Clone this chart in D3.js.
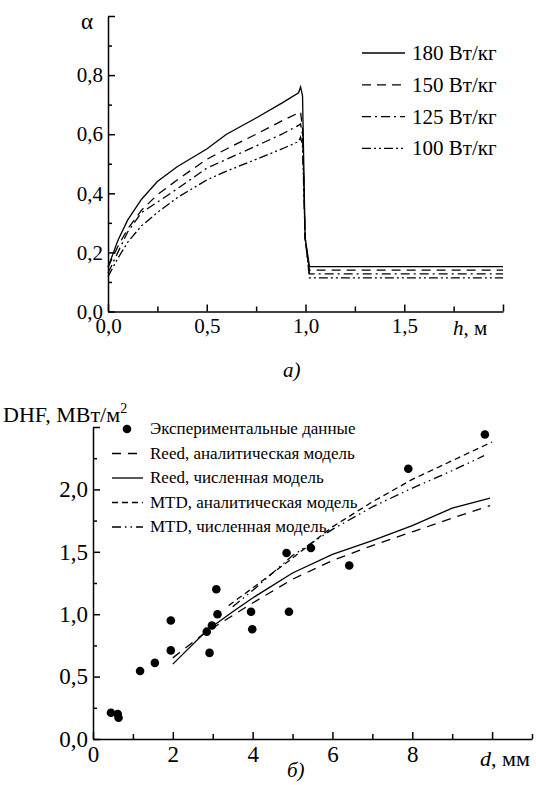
<!DOCTYPE html>
<html>
<head>
<meta charset="utf-8">
<script src="https://cdn.jsdelivr.net/npm/d3@7"></script>
<style>
  body { margin: 0; background: #fff; }
  text { font-family: "Liberation Serif", "Times New Roman", serif; fill: #000; }
</style>
</head>
<body>
<div id="plot"></div>
<script>
// ---- data, chart a): alpha vs h ----
var hGrid = [0, 0.05, 0.1, 0.17, 0.25, 0.35, 0.5, 0.6, 0.75, 0.88, 0.965, 0.975, 0.985, 0.998, 1.02, 2.0];
var alpha180 = [0.15, 0.24, 0.31, 0.38, 0.44, 0.49, 0.55, 0.60, 0.655, 0.705, 0.74, 0.76, 0.73, 0.25, 0.152, 0.152];
var alpha150 = [0.15, 0.22, 0.28, 0.343, 0.395, 0.445, 0.515, 0.55, 0.60, 0.645, 0.672, 0.675, 0.62, 0.25, 0.14, 0.14];
var alpha125 = [0.13, 0.20, 0.27, 0.335, 0.37, 0.415, 0.485, 0.515, 0.56, 0.60, 0.63, 0.635, 0.60, 0.25, 0.127, 0.127];
var alpha100 = [0.118, 0.18, 0.235, 0.29, 0.335, 0.385, 0.445, 0.475, 0.515, 0.55, 0.575, 0.59, 0.56, 0.25, 0.114, 0.114];
var powerLabels = ["180 Вт/кг", "150 Вт/кг", "125 Вт/кг", "100 Вт/кг"];

// ---- data, chart б): DHF vs d ----
var expD   = [0.45, 0.62, 0.64, 1.18, 1.55, 1.95, 1.95, 2.85, 2.92, 2.98, 3.09, 3.12, 3.96, 3.99, 4.85, 4.91, 5.46, 6.42, 7.90, 9.82];
var expDHF = [0.21, 0.20, 0.17, 0.545, 0.61, 0.71, 0.95, 0.86, 0.69, 0.91, 1.20, 1.00, 1.02, 0.88, 1.49, 1.02, 1.53, 1.39, 2.165, 2.44];
var reedNumD   = [2.0, 2.85, 3.5, 4.0, 5.0, 6.0, 7.0, 8.0, 9.0, 9.95];
var reedNumDHF = [0.60, 0.87, 1.02, 1.13, 1.33, 1.48, 1.59, 1.71, 1.85, 1.93];
var reedAnD    = [2.0, 2.8, 3.5, 4.0, 5.0, 6.0, 7.0, 8.0, 9.0, 9.95];
var reedAnDHF  = [0.65, 0.85, 0.99, 1.09, 1.28, 1.43, 1.55, 1.66, 1.77, 1.87];
var mtdAnD     = [3.4, 4.0, 5.0, 6.0, 7.0, 8.0, 9.0, 10.0];
var mtdAnDHF   = [1.07, 1.21, 1.45, 1.70, 1.90, 2.08, 2.23, 2.38];
var mtdNumD    = [3.5, 4.0, 5.0, 6.0, 7.0, 8.0, 9.0, 9.8];
var mtdNumDHF  = [1.06, 1.19, 1.47, 1.68, 1.86, 2.01, 2.15, 2.27];
var legendB = ["Экспериментальные данные", "Reed, аналитическая модель", "Reed, численная модель",
               "MTD, аналитическая модель", "MTD, численная модель"];

var comma = function(f) { return function(d) { return d3.format(f)(d).replace(".", ","); }; };

var svg = d3.select("#plot")
  .append("svg")
    .attr("width", 536)
    .attr("height", 785);

svg.append("rect").attr("width", 536).attr("height", 785).attr("fill", "#fff");

// helper: axis with inward major + minor ticks
function drawAxes(g, x, y, o) {
  var xa = g.append("g")
    .attr("transform", "translate(0," + y.range()[0] + ")")
    .call(d3.axisBottom(x).tickValues(o.xMajor).tickSize(-7).tickSizeOuter(0).tickPadding(7)
      .tickFormat(function(d) { return o.xHide.indexOf(d) >= 0 ? "" : o.xFmt(d); }));
  g.append("g")
    .attr("transform", "translate(0," + y.range()[0] + ")")
    .call(d3.axisBottom(x).tickValues(o.xMinor).tickSize(-5).tickFormat(""))
    .select(".domain").remove();
  var ya = g.append("g")
    .attr("transform", "translate(" + x.range()[0] + ",0)")
    .call(d3.axisLeft(y).tickValues(o.yMajor).tickSize(-7).tickSizeOuter(0).tickPadding(5)
      .tickFormat(function(d) { return o.yHide.indexOf(d) >= 0 ? "" : o.yFmt(d); }));
  g.append("g")
    .attr("transform", "translate(" + x.range()[0] + ",0)")
    .call(d3.axisLeft(y).tickValues(o.yMinor).tickSize(-4).tickFormat(""))
    .select(".domain").remove();
  g.selectAll(".domain, .tick line").attr("stroke", "#000").attr("stroke-width", 1.5);
  g.selectAll(".tick text").attr("font-family", "Liberation Serif, serif")
    .attr("font-size", o.fs).attr("fill", "#000");
}

// ================= chart a) =================
var xA = d3.scaleLinear().domain([0, 2]).range([108, 503]);
var yA = d3.scaleLinear().domain([0, 1]).range([311.5, 16]);
var gA = svg.append("g");

drawAxes(gA, xA, yA, {
  xMajor: [0, 0.5, 1, 1.5, 2], xMinor: [0.25, 0.75, 1.25, 1.75], xHide: [2], xFmt: comma(".1f"),
  yMajor: [0, 0.2, 0.4, 0.6, 0.8, 1], yMinor: [0.1, 0.3, 0.5, 0.7, 0.9], yHide: [1], yFmt: comma(".1f"),
  fs: 21
});

var dashA = [null, "9,6", "9,4,2,4", "9,3,2,3,2,3"];
var seriesA = [alpha180, alpha150, alpha125, alpha100];
var lineA = d3.line()
  .x(function(d) { return xA(d[0]); })
  .y(function(d) { return yA(d[1]); });

seriesA.forEach(function(vals, i) {
  gA.append("path")
    .datum(hGrid.map(function(h, j) { return [h, vals[j]]; }))
    .attr("fill", "none")
    .attr("stroke", "#000")
    .attr("stroke-width", 1.3)
    .attr("stroke-dasharray", dashA[i])
    .attr("d", lineA);
});

// legend a)
powerLabels.forEach(function(t, i) {
  var cy = 53 + i * 31.8;
  gA.append("line")
    .attr("x1", 362).attr("x2", 405).attr("y1", cy).attr("y2", cy)
    .attr("stroke", "#000").attr("stroke-width", 1.3)
    .attr("stroke-dasharray", dashA[i]);
  gA.append("text")
    .attr("x", 412).attr("y", cy + 7)
    .attr("font-size", 21)
    .text(t);
});

gA.append("text").attr("x", 87).attr("y", 29).attr("font-size", 23)
  .attr("text-anchor", "middle").text("α");
var hl = gA.append("text").attr("x", 453).attr("y", 335).attr("font-size", 21);
hl.append("tspan").attr("font-style", "italic").text("h");
hl.append("tspan").text(", м");
gA.append("text").attr("x", 283).attr("y", 377).attr("font-size", 21)
  .attr("font-style", "italic").text("а)");

// ================= chart б) =================
var xB = d3.scaleLinear().domain([0, 11]).range([93, 532]);
var yB = d3.scaleLinear().domain([0, 2.5]).range([739, 427]);
var gB = svg.append("g");

drawAxes(gB, xB, yB, {
  xMajor: [0, 2, 4, 6, 8, 10], xMinor: [1, 3, 5, 7, 9, 11], xHide: [10], xFmt: d3.format("d"),
  yMajor: [0, 0.5, 1, 1.5, 2, 2.5], yMinor: [0.25, 0.75, 1.25, 1.75, 2.25], yHide: [2.5], yFmt: comma(".1f"),
  fs: 23
});

var lineB = d3.line()
  .x(function(d) { return xB(d[0]); })
  .y(function(d) { return yB(d[1]); });

var seriesB = [
  {d: reedAnD, v: reedAnDHF, dash: "9,7"},
  {d: reedNumD, v: reedNumDHF, dash: null},
  {d: mtdAnD, v: mtdAnDHF, dash: "6,4"},
  {d: mtdNumD, v: mtdNumDHF, dash: "9,4,1.5,4,1.5,4"}
];

seriesB.forEach(function(s) {
  gB.append("path")
    .datum(s.d.map(function(x, j) { return [x, s.v[j]]; }))
    .attr("fill", "none")
    .attr("stroke", "#000")
    .attr("stroke-width", 1.3)
    .attr("stroke-dasharray", s.dash)
    .attr("d", lineB);
});

gB.selectAll("circle.exp")
  .data(expD.map(function(x, j) { return [x, expDHF[j]]; }))
  .enter().append("circle")
    .attr("class", "exp")
    .attr("cx", function(d) { return xB(d[0]); })
    .attr("cy", function(d) { return yB(d[1]); })
    .attr("r", 4.3)
    .attr("fill", "#000");

// legend б)
legendB.forEach(function(t, i) {
  var cy = 429 + i * 24.5;
  if (i == 0) {
    gB.append("circle").attr("cx", 127).attr("cy", cy).attr("r", 4.3).attr("fill", "#000");
  } else {
    gB.append("line")
      .attr("x1", 112).attr("x2", 143).attr("y1", cy).attr("y2", cy)
      .attr("stroke", "#000").attr("stroke-width", 1.3)
      .attr("stroke-dasharray", seriesB[i - 1].dash);
  }
  gB.append("text")
    .attr("x", 150).attr("y", cy + 5)
    .attr("font-size", 17)
    .text(t);
});

var yl = gB.append("text").attr("x", 3).attr("y", 422).attr("font-size", 22);
yl.append("tspan").text("DHF, МВт/м");
yl.append("tspan").attr("font-size", 14).attr("dy", -9).text("2");

var dl = gB.append("text").attr("x", 480).attr("y", 766).attr("font-size", 22);
dl.append("tspan").attr("font-style", "italic").text("d");
dl.append("tspan").text(", мм");
gB.append("text").attr("x", 287).attr("y", 777).attr("font-size", 21)
  .attr("font-style", "italic").text("б)");
</script>
</body>
</html>
